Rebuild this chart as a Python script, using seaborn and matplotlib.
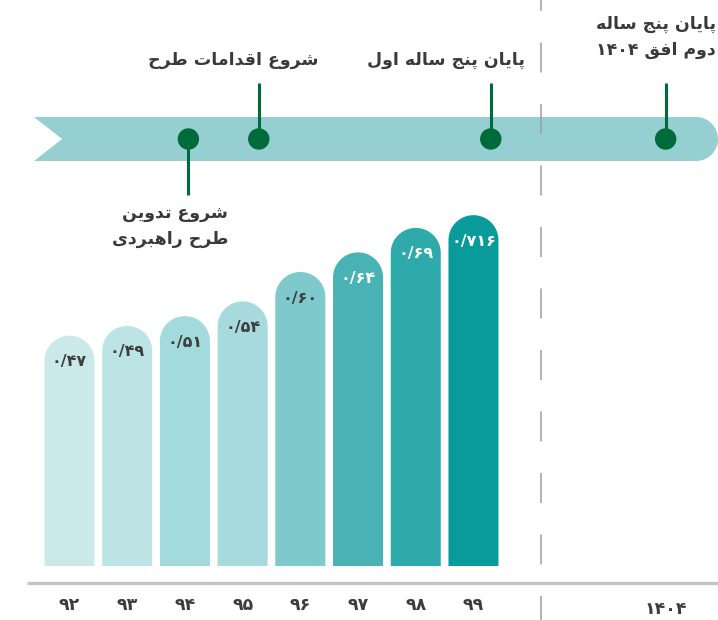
import numpy as np
import pandas as pd
import seaborn as sns
import matplotlib.pyplot as plt
from matplotlib.path import Path
from matplotlib.patches import PathPatch, Ellipse

# data
years = ['۹۲', '۹۳', '۹۴', '۹۵', '۹۶', '۹۷', '۹۸', '۹۹']
values = [0.47, 0.49, 0.51, 0.54, 0.60, 0.64, 0.69, 0.716]
value_labels = ['۰/۴۷', '۰/۴۹', '۰/۵۱', '۰/۵۴', '۰/۶۰', '۰/۶۴', '۰/۶۹', '۰/۷۱۶']
bar_colors = ['#cce9e9', '#bde4e5', '#a3dadb', '#a7dadc', '#7dc9cb', '#49b2b5', '#2eaaab', '#099a9b']
label_colors = ['#3d3d3d'] * 5 + ['#ffffff'] * 3

milestone_pos = [2.06, 3.28, 7.30, 10.33]
milestone_labels = ['شروع تدوین\nطرح راهبردی', 'شروع اقدامات طرح',
                    'پایان پنج ساله اول', 'پایان پنج ساله\nدوم افق ۱۴۰۴']
horizon_label = '۱۴۰۴'
horizon_pos = 10.33
divider_pos = 8.17

# ---- tiny persian shaper (matplotlib does no shaping / bidi) ----
FORMS = {  # isolated, final, initial, medial
    'ا': ('\uFE8D', '\uFE8E', None, None),
    'آ': ('\uFE81', '\uFE82', None, None),
    'د': ('\uFEA9', '\uFEAA', None, None),
    'ر': ('\uFEAD', '\uFEAE', None, None),
    'ز': ('\uFEAF', '\uFEB0', None, None),
    'و': ('\uFEED', '\uFEEE', None, None),
    'ب': ('\uFE8F', '\uFE90', '\uFE91', '\uFE92'),
    'پ': ('\uFB56', '\uFB57', '\uFB58', '\uFB59'),
    'ت': ('\uFE95', '\uFE96', '\uFE97', '\uFE98'),
    'ج': ('\uFE9D', '\uFE9E', '\uFE9F', '\uFEA0'),
    'ح': ('\uFEA1', '\uFEA2', '\uFEA3', '\uFEA4'),
    'س': ('\uFEB1', '\uFEB2', '\uFEB3', '\uFEB4'),
    'ش': ('\uFEB5', '\uFEB6', '\uFEB7', '\uFEB8'),
    'ط': ('\uFEC1', '\uFEC2', '\uFEC3', '\uFEC4'),
    'ع': ('\uFEC9', '\uFECA', '\uFECB', '\uFECC'),
    'ف': ('\uFED1', '\uFED2', '\uFED3', '\uFED4'),
    'ق': ('\uFED5', '\uFED6', '\uFED7', '\uFED8'),
    'ل': ('\uFEDD', '\uFEDE', '\uFEDF', '\uFEE0'),
    'م': ('\uFEE1', '\uFEE2', '\uFEE3', '\uFEE4'),
    'ن': ('\uFEE5', '\uFEE6', '\uFEE7', '\uFEE8'),
    'ه': ('\uFEE9', '\uFEEA', '\uFEEB', '\uFEEC'),
    'ی': ('\uFBFC', '\uFBFD', '\uFBFE', '\uFBFF'),
}


def shape_line(s):
    out = []
    for i, c in enumerate(s):
        if c not in FORMS:
            out.append(c)
            continue
        prev = s[i - 1] if i > 0 else ''
        nxt = s[i + 1] if i + 1 < len(s) else ''
        f = FORMS[c]
        join_prev = prev in FORMS and FORMS[prev][2] is not None
        join_next = f[2] is not None and nxt in FORMS
        if join_prev and join_next:
            out.append(f[3])
        elif join_prev:
            out.append(f[1])
        elif join_next:
            out.append(f[2])
        else:
            out.append(f[0])
    vis = ''.join(out)[::-1]
    # digit runs stay left-to-right
    res, run = '', ''
    for ch in vis:
        if '\u06f0' <= ch <= '\u06f9':
            run += ch
        else:
            res += run[::-1] + ch
            run = ''
    return res + run[::-1]


def fa(s):
    return '\n'.join(shape_line(l) for l in s.split('\n'))


sns.set_theme(style='white')
plt.rcParams['font.family'] = ['DejaVu Sans']

W, H = 718, 620
fig = plt.figure(figsize=(W / 100, H / 100), dpi=100)
ax = fig.add_axes([0, 0, 1, 1])

# pixel helpers for the layout
SX, X0 = 57.71, 69.5
SY, Y0 = 490.0, 566.0
def px(p): return (p - X0) / SX
def py(p): return (Y0 - p) / SY

df = pd.DataFrame({'year': years, 'value': values})
sns.barplot(data=df, x='year', y='value', hue='year', palette=bar_colors,
            legend=False, width=50 / SX, ax=ax, saturation=1)
ax.set_xlim(px(0), px(W))
ax.set_ylim(py(H), py(0))
ax.axis('off')

# swap the bars for round-topped ones
ratio = SX / SY
for patch, col in zip(list(ax.patches), bar_colors):
    x0, w, h = patch.get_x(), patch.get_width(), patch.get_height()
    patch.set_visible(False)
    rx = w / 2
    ry = rx * ratio
    t = np.linspace(np.pi, 0, 40)
    xs = np.concatenate([[x0], x0 + rx + rx * np.cos(t), [x0 + w]])
    ys = np.concatenate([[0], h - ry + ry * np.sin(t), [0]])
    verts = np.column_stack([xs, ys])
    ax.add_patch(PathPatch(Path(np.vstack([verts, verts[:1]]), closed=True),
                           facecolor=col, edgecolor='none', zorder=3))

for i, (v, lab, c) in enumerate(zip(values, value_labels, label_colors)):
    ax.text(i, v - 26 / SY, lab, ha='center', va='center', fontsize=11.5,
            fontweight='bold', color=c, zorder=4)

# x labels
for i, y in enumerate(years):
    ax.text(i, py(605), y, ha='center', va='center', fontsize=12.5,
            fontweight='bold', color='#3d3d3d')
ax.text(horizon_pos, py(609), horizon_label, ha='center', va='center',
        fontsize=12.5, fontweight='bold', color='#3d3d3d')

# baseline
ax.plot([px(27), px(W)], [py(583), py(583)], color='#c4c4c4', lw=2.4,
        solid_capstyle='butt', zorder=2)

# dashed divider
k = 1.389 * 1.1
ax.plot([divider_pos, divider_pos], [py(0), py(H)], color='#9e9e9e', lw=1.1,
        linestyle=(19 / k, (30 / k, 31.5 / k)), zorder=5)

# ribbon
rib_top, rib_bot, rib_mid = py(117), py(161), py(139)
t = np.linspace(np.pi / 2, -np.pi / 2, 30)
cap_x = px(696) + (22 / SX) * np.cos(t)
cap_y = rib_mid + (22 / SY) * np.sin(t)
rx_ = np.concatenate([[px(34), px(696)], cap_x, [px(34), px(62)]])
ry_ = np.concatenate([[rib_top, rib_top], cap_y, [rib_bot, rib_mid]])
ax.fill(rx_, ry_, color='#96cfd1', lw=0, zorder=1)

# milestones
green = '#006b3a'
ends = [py(195), py(83), py(83), py(83)]
for pos, e in zip(milestone_pos, ends):
    ax.plot([pos, pos], [rib_mid, e], color=green, lw=2.2, zorder=6,
            solid_capstyle='butt')
    ax.add_patch(Ellipse((pos, rib_mid), 20 / SX, 20 / SY, color=green, zorder=7))

txt = dict(fontsize=12.5, fontweight='bold', color='#3a3a3a', ha='right',
           multialignment='right', linespacing=1.6, va='center')
ax.text(px(228), py(226), fa(milestone_labels[0]), **txt)
ax.text(px(318), py(60), fa(milestone_labels[1]), **txt)
ax.text(px(525), py(60), fa(milestone_labels[2]), **txt)
ax.text(px(716), py(37), fa(milestone_labels[3]), **txt)

fig.savefig('out.png', dpi=100)
